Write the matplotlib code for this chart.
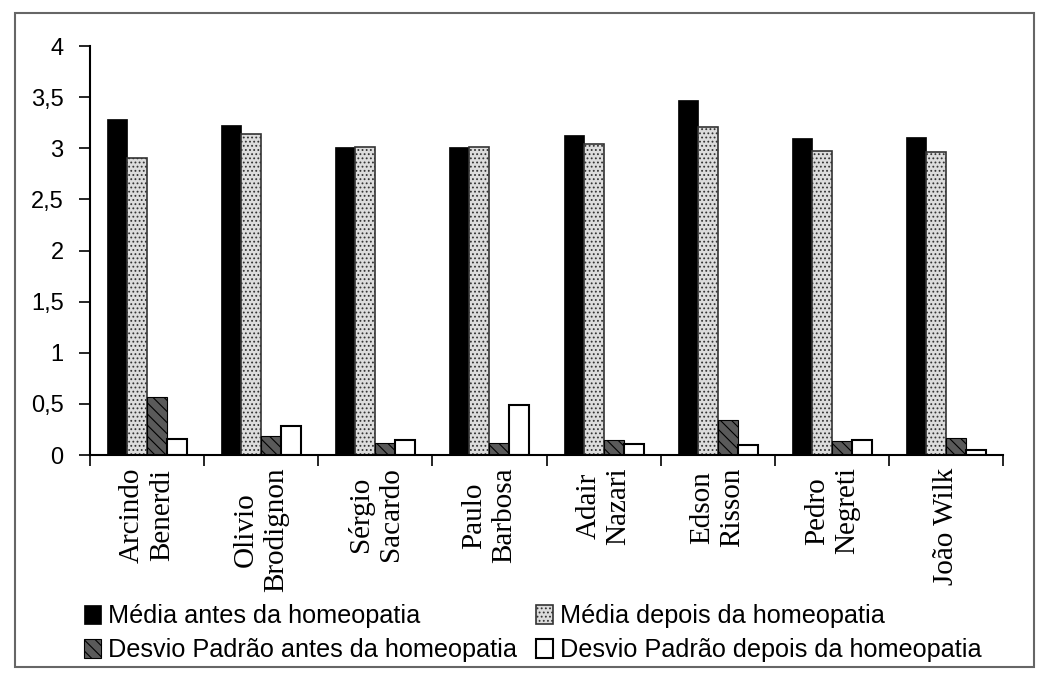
import matplotlib.pyplot as plt
import matplotlib.patches as mpatches
import numpy as np

names = ["Arcindo\nBenerdi", "Olivio\nBrodignon", "Sérgio\nSacardo", "Paulo\nBarbosa",
         "Adair\nNazari", "Edson\nRisson", "Pedro\nNegreti", "João Wilk"]
media_antes = [3.29, 3.23, 3.01, 3.01, 3.13, 3.47, 3.10, 3.11]
media_depois = [2.90, 3.14, 3.01, 3.01, 3.04, 3.21, 2.97, 2.96]
dp_antes = [0.57, 0.19, 0.12, 0.12, 0.15, 0.34, 0.14, 0.17]
dp_depois = [0.16, 0.28, 0.15, 0.49, 0.11, 0.10, 0.15, 0.05]
series_labels = ["Média antes da homeopatia", "Média depois da homeopatia",
                 "Desvio Padrão antes da homeopatia", "Desvio Padrão depois da homeopatia"]
yticks = [0, 0.5, 1, 1.5, 2, 2.5, 3, 3.5, 4]
ytick_labels = ["0", "0,5", "1", "1,5", "2", "2,5", "3", "3,5", "4"]

W, H = 1037, 673
fig = plt.figure(figsize=(W / 100, H / 100), dpi=100)
ax = fig.add_axes([90 / W, 1 - 455 / H, 913 / W, 409 / H])

x = np.arange(len(names)) + 0.5
bw = 0.175
plt.rcParams['hatch.linewidth'] = 0.8
b1 = ax.bar(x - 1.5 * bw, media_antes, bw, color='black', edgecolor='black', linewidth=0.5)
b2 = ax.bar(x - 0.5 * bw, media_depois, bw, color='#dcdcdc', edgecolor='#333333',
            hatch='....', linewidth=1.2)
b3 = ax.bar(x + 0.5 * bw, dp_antes, bw, color='#5a5a5a', edgecolor='black',
            hatch='\\\\\\', linewidth=0.8)
b4 = ax.bar(x + 1.5 * bw, dp_depois, bw, color='white', edgecolor='black', linewidth=1.5)

ax.set_xlim(0, len(names))
ax.set_ylim(0, 4)
ax.set_xticks(np.arange(len(names) + 1))
ax.set_xticklabels([])
ax.set_xticks(x, minor=True)
ax.set_xticklabels(names, minor=True, rotation=90, fontsize=21,
                   family='Liberation Serif', va='top', ha='center', multialignment='center')
ax.tick_params(axis='x', which='minor', length=0, pad=9)
ax.tick_params(axis='x', which='major', length=8, width=1.2, direction='out')
ax.set_yticks(yticks)
ax.set_yticklabels(ytick_labels, fontsize=17, family='Liberation Sans')
ax.tick_params(axis='y', length=8, width=1.2, pad=11)
for s in ['top', 'right']:
    ax.spines[s].set_visible(False)
for s in ['left', 'bottom']:
    ax.spines[s].set_linewidth(1.5)

# legend is filled row by row in the reference
fig.legend([b1, b3, b2, b4], [series_labels[0], series_labels[2], series_labels[1], series_labels[3]],
           loc='upper left', bbox_to_anchor=(74 / W, 1 - 594 / H), ncol=2, frameon=False,
           prop={'family': 'Liberation Sans', 'size': 18.2}, handlelength=0.65, handleheight=0.75,
           handletextpad=0.3, columnspacing=0.75, labelspacing=0.4, borderaxespad=0)

# scanned frame around the figure
fig.add_artist(mpatches.Rectangle((15 / W, 1 - 667 / H), 1019 / W, 654 / H, fill=False,
                                  edgecolor='#666666', linewidth=1.5, transform=fig.transFigure))

fig.savefig('out.png', dpi=100)
